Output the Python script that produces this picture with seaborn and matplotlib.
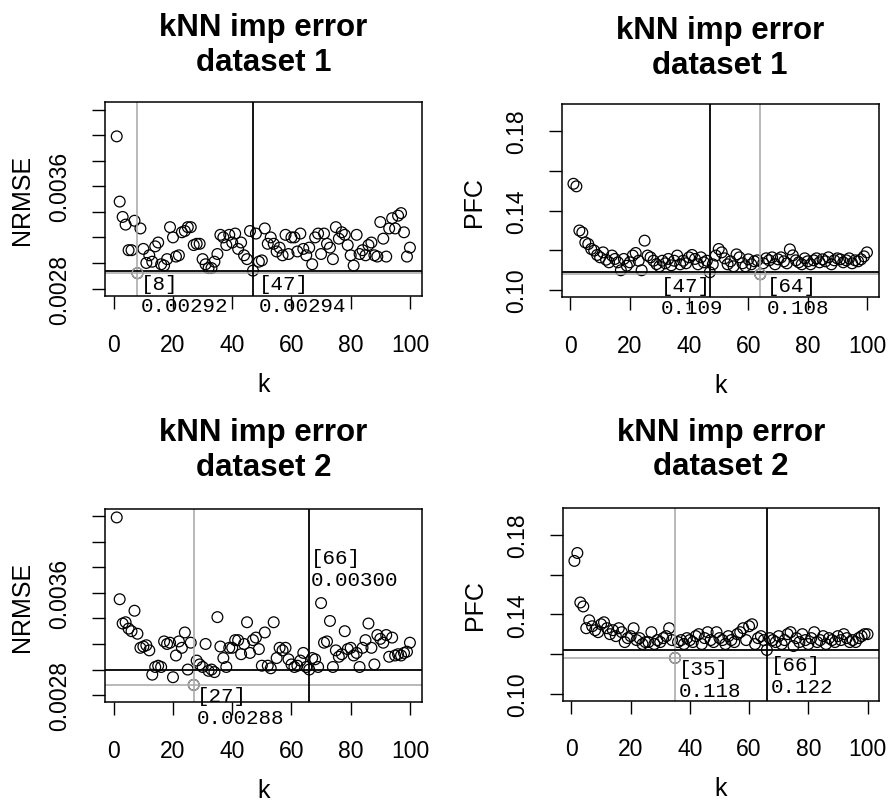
import numpy as np
import matplotlib
matplotlib.use("Agg")
import matplotlib.pyplot as plt
import seaborn as sns

# k = number of neighbours tried
k_values = np.arange(1, 101)

# dataset 1, NRMSE (x 1e-5)
nrmse_ds1 = np.array([
    399, 348, 336, 330, 310, 310, 333, 292, 327, 311,
    300, 306, 301, 313, 316, 299, 298, 303, 328, 320,
    305, 306, 324, 325, 328, 328, 314, 315, 315, 303,
    299, 296, 296, 301, 307, 322, 320, 314, 322, 316,
    323, 311, 316, 306, 303, 325, 294, 323, 301, 302,
    327, 315, 320, 315, 309, 312, 306, 322, 307, 320,
    320, 309, 323, 311, 306, 312, 299, 320, 323, 307,
    323, 315, 312, 303, 328, 319, 324, 322, 314, 306,
    298, 322, 307, 310, 306, 314, 316, 306, 305, 332,
    319, 305, 327, 335, 327, 337, 339, 324, 305, 312]) * 1e-5

# dataset 1, PFC
pfc_ds1 = np.array([
    .1535, .1522, .1300, .1290, .1240, .1232, .1207, .1199, .1177, .1165,
    .1190, .1153, .1140, .1174, .1157, .1140, .1100, .1157, .1123, .1140,
    .1174, .1187, .1148, .1100, .1249, .1174, .1165, .1148, .1131, .1120,
    .1148, .1135, .1157, .1125, .1148, .1174, .1130, .1148, .1135, .1165,
    .1177, .1157, .1130, .1165, .1140, .1148, .1090, .1130, .1174, .1207,
    .1190, .1160, .1130, .1145, .1120, .1180, .1165, .1135, .1120, .1155,
    .1130, .1145, .1150, .1080, .1135, .1160, .1150, .1165, .1130, .1155,
    .1165, .1145, .1135, .1205, .1175, .1150, .1140, .1130, .1160, .1145,
    .1130, .1150, .1160, .1140, .1155, .1145, .1165, .1130, .1150, .1160,
    .1155, .1140, .1150, .1160, .1135, .1150, .1145, .1155, .1170, .1190])

# dataset 2, NRMSE (x 1e-5)
nrmse_ds2 = np.array([
    419, 355, 336, 337, 332, 330, 346, 328, 317, 318,
    319, 315, 296, 302, 303, 302, 322, 320, 321, 294,
    311, 322, 317, 329, 300, 321, 288, 307, 304, 302,
    320, 299, 300, 298, 341, 318, 309, 302, 317, 317,
    323, 323, 312, 320, 337, 313, 323, 325, 316, 303,
    329, 303, 301, 337, 309, 317, 315, 317, 308, 304,
    302, 303, 307, 313, 302, 300, 309, 308, 302, 352,
    321, 322, 338, 302, 315, 310, 312, 330, 316, 317,
    311, 313, 302, 317, 323, 336, 317, 304, 327, 324,
    321, 327, 310, 325, 311, 312, 311, 313, 314, 321]) * 1e-5

# dataset 2, PFC
pfc_ds2 = np.array([
    .167, .171, .146, .144, .133, .137, .134, .132, .131, .135,
    .136, .133, .130, .132, .129, .133, .131, .126, .128, .129,
    .133, .127, .128, .125, .126, .126, .131, .125, .127, .126,
    .128, .129, .133, .127, .118, .126, .127, .125, .128, .127,
    .126, .129, .130, .125, .128, .131, .127, .126, .131, .128,
    .127, .125, .129, .127, .126, .130, .131, .133, .127, .134,
    .135, .125, .128, .129, .127, .122, .128, .127, .126, .129,
    .125, .127, .130, .131, .124, .128, .126, .130, .127, .125,
    .128, .131, .126, .127, .129, .125, .128, .127, .126, .129,
    .127, .130, .128, .126, .127, .126, .128, .129, .130, .130])

GREY = "#a6a6a6"

sns.set_style("white")
plt.rcParams["font.family"] = ["Liberation Sans", "DejaVu Sans"]
plt.rcParams["text.color"] = "black"
plt.rcParams["axes.labelcolor"] = "black"
plt.rcParams["xtick.color"] = "black"
plt.rcParams["ytick.color"] = "black"
MONO = ["Liberation Mono", "DejaVu Sans Mono"]

fig = plt.figure(figsize=(8.92, 8.03), dpi=100)

panels = [
    # rect, values, ylabel, title, ylim, step, labelled ticks, fmt, selected k,
    # offsets (px) of the min / selected labels, title y, ylabel x
    dict(rect=[0.1177, 0.6305, 0.3550, 0.2408], vals=nrmse_ds1, ylab="NRMSE",
         title="kNN imp error\ndataset 1", lim=(0.0028, 0.0042), step=0.0002,
         shown=(0.0028, 0.0036), tfmt="{:.4f}", afmt="{:.5f}", k_sel=47,
         off_min=(3, -1), off_sel=(6, -3), ty=1.255, lx=-0.262),
    dict(rect=[0.6297, 0.6285, 0.3554, 0.2407], vals=pfc_ds1, ylab="PFC",
         title="kNN imp error\ndataset 1", lim=(0.10, 0.19), step=0.02,
         shown=(0.10, 0.14, 0.18), tfmt="{:.2f}", afmt="{:.3f}", k_sel=47,
         off_min=(7, -2), off_sel=(-49, -4), ty=1.25, lx=-0.277),
    dict(rect=[0.1177, 0.1242, 0.3550, 0.2407], vals=nrmse_ds2, ylab="NRMSE",
         title="kNN imp error\ndataset 2", lim=(0.0028, 0.0042), step=0.0002,
         shown=(0.0028, 0.0036), tfmt="{:.4f}", afmt="{:.5f}", k_sel=66,
         off_min=(3, -1), off_sel=(2, 122), ty=1.265, lx=-0.262),
    dict(rect=[0.6308, 0.1262, 0.3549, 0.2396], vals=pfc_ds2, ylab="PFC",
         title="kNN imp error\ndataset 2", lim=(0.10, 0.19), step=0.02,
         shown=(0.10, 0.14, 0.18), tfmt="{:.2f}", afmt="{:.3f}", k_sel=66,
         off_min=(4, -1), off_sel=(4, -5), ty=1.265, lx=-0.277),
]

for p in panels:
    ax = fig.add_axes(p["rect"])
    vals = p["vals"]

    sns.scatterplot(x=k_values, y=vals, ax=ax, marker="o", s=60,
                    facecolors="none", edgecolor="black", linewidth=0.9)

    i_min = int(np.argmin(vals))
    k_min, v_min = k_values[i_min], vals[i_min]
    k_sel = p["k_sel"]
    v_sel = vals[k_sel - 1]

    ax.axhline(v_min, color=GREY, lw=1.1)
    ax.axvline(k_min, color=GREY, lw=1.1)
    ax.axhline(v_sel, color="black", lw=1.3)
    ax.axvline(k_sel, color="black", lw=1.3)
    sns.scatterplot(x=[k_min], y=[v_min], ax=ax, marker="o", s=60,
                    facecolors="none", edgecolor=GREY, linewidth=0.9, zorder=3)

    for kk, vv, off in [(k_min, v_min, p["off_min"]), (k_sel, v_sel, p["off_sel"])]:
        ax.annotate(f"[{kk}]\n" + p["afmt"].format(vv), xy=(kk, vv),
                    xytext=off, textcoords="offset pixels", ha="left", va="top",
                    family=MONO, fontsize=15, annotation_clip=False)

    # R style 4% padding
    lo, hi = p["lim"]
    pad = 0.04 * (hi - lo)
    ax.set_ylim(lo - pad, hi + pad)
    ax.set_xlim(1 - 0.04 * 99, 100 + 0.04 * 99)

    ax.set_xticks(np.arange(0, 101, 20))
    yt = np.arange(lo, hi + p["step"] / 2, p["step"])
    ylabels = [p["tfmt"].format(v) if any(np.isclose(v, s) for s in p["shown"]) else ""
               for v in yt]
    ax.set_yticks(yt)
    ax.set_yticklabels(ylabels)

    ax.tick_params(axis="both", direction="out", length=9.5, width=1.0,
                   labelsize=16.5, color="black", bottom=True, left=True)
    ax.tick_params(axis="x", pad=17)
    ax.tick_params(axis="y", pad=15, labelrotation=90)
    for lbl in ax.get_yticklabels():
        lbl.set_va("center")

    for sp in ax.spines.values():
        sp.set_visible(True)
        sp.set_color("black")
        sp.set_linewidth(1.1)

    ax.set_xlabel("k", fontsize=18, va="center")
    ax.xaxis.set_label_coords(0.5, -0.455)
    ax.set_ylabel(p["ylab"], fontsize=18, va="center")
    ax.yaxis.set_label_coords(p["lx"], 0.5)

    ax.set_title(p["title"], fontsize=22.5, fontweight="bold", y=p["ty"],
                 va="center", color="black")

fig.savefig("out.png", dpi=100)
plt.close(fig)
